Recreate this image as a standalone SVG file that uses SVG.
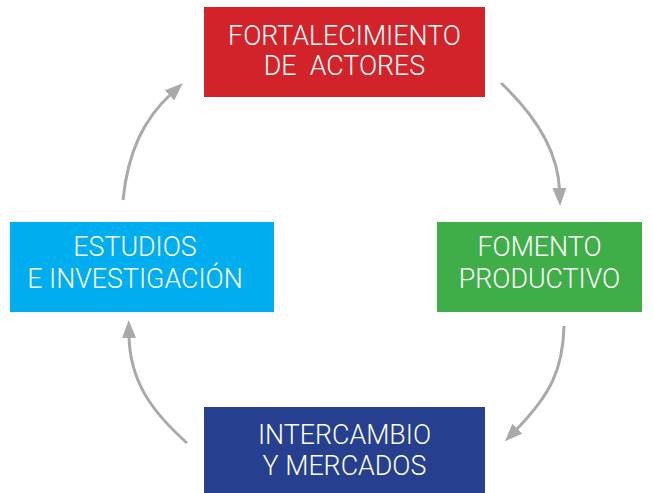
<svg xmlns="http://www.w3.org/2000/svg" width="653" height="493" viewBox="0 0 653 493">
<style>
.lbl{font-family:Roboto,"Liberation Sans",Arial,sans-serif;font-weight:300;font-size:26.8px;fill:#fff;text-anchor:middle}
.arr{fill:none;stroke:#A7A9AC;stroke-width:3;marker-end:url(#ah)}
</style>
<defs>
<marker id="ah" viewBox="0 0 18 14" refX="2" refY="7" markerWidth="18" markerHeight="14" markerUnits="userSpaceOnUse" orient="auto">
<path d="M0,0 L18,7 L0,14 z" fill="#A7A9AC"/>
</marker>
</defs>
<rect width="653" height="493" fill="#fff"/>
<g id="connectors">
<path class="arr" d="M501,83 C535,115 558,150 559.5,190"/>
<path class="arr" d="M564,326 C563,370 550,395 516,430"/>
<path class="arr" d="M187,443 C150,410 130,380 129,336"/>
<path class="arr" d="M123,200 C128,150 145,118 171,94"/>
</g>
<g id="fortalecimiento">
<rect x="204" y="7" width="281" height="90" fill="#D2232A"/>
<text class="lbl" x="344.5" y="45">FORTALECIMIENTO</text>
<text class="lbl" x="344.5" y="75" xml:space="preserve">DE  ACTORES</text>
</g>
<g id="fomento">
<rect x="437" y="222" width="205" height="90" fill="#3FAE49"/>
<text class="lbl" x="539.5" y="256">FOMENTO</text>
<text class="lbl" x="539.5" y="288">PRODUCTIVO</text>
</g>
<g id="intercambio">
<rect x="204" y="407" width="281" height="86" fill="#263F8F"/>
<text class="lbl" x="344.5" y="444">INTERCAMBIO</text>
<text class="lbl" x="344.5" y="475">Y MERCADOS</text>
</g>
<g id="estudios">
<rect x="10" y="222" width="264" height="90" fill="#00AEEF"/>
<text class="lbl" x="135" y="256">ESTUDIOS</text>
<text class="lbl" x="135" y="288">E INVESTIGACIÓN</text>
</g>
</svg>
